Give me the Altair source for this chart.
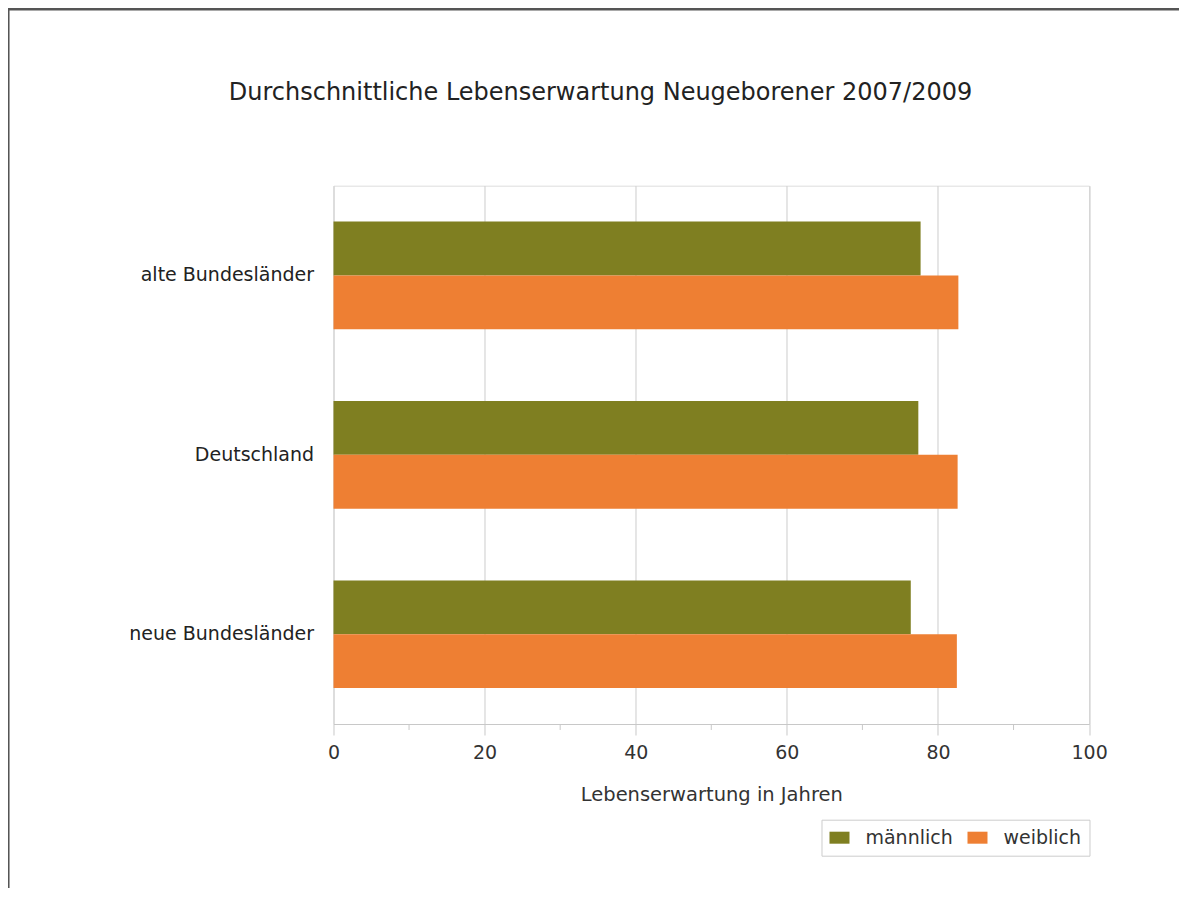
import altair as alt
import pandas as pd

regions = ["alte Bundesländer", "Deutschland", "neue Bundesländer"]
maennlich = [77.7, 77.4, 76.4]
weiblich = [82.7, 82.6, 82.5]
series = ["männlich", "weiblich"]
colors = ["#7f7f21", "#ee7f33"]
major_ticks = [0, 20, 40, 60, 80, 100]
minor_ticks = [10, 30, 50, 70, 90]
title_text = "Durchschnittliche Lebenserwartung Neugeborener 2007/2009"
x_title = "Lebenserwartung in Jahren"

rows = []
for r, m, w in zip(regions, maennlich, weiblich):
    rows.append({"Region": r, "Geschlecht": series[0], "Wert": m})
    rows.append({"Region": r, "Geschlecht": series[1], "Wert": w})
df = pd.DataFrame(rows)

W = 755.6
H = 538.3
FONT = "DejaVu Sans"

xscale = alt.Scale(domain=[0, 100], nice=False)

bars = alt.Chart(df).mark_bar().encode(
    y=alt.Y("Region:N", sort=regions,
            scale=alt.Scale(paddingInner=0.4, paddingOuter=0.2),
            axis=alt.Axis(title=None, ticks=False, domain=False,
                          labelFontSize=19, labelColor="#222222",
                          labelPadding=20, labelFont=FONT, labelLimit=400)),
    yOffset=alt.YOffset("Geschlecht:N", sort=series),
    x=alt.X("Wert:Q", scale=xscale,
            axis=alt.Axis(values=major_ticks, title=x_title, grid=True,
                          gridColor="#cccccc", domainColor="#c8c8c8",
                          tickColor="#c8c8c8", tickSize=11,
                          labelFontSize=19, labelColor="#333333",
                          labelPadding=9, labelFont=FONT, labelFlush=False,
                          titleFontSize=19.5, titleFontWeight="normal",
                          titleColor="#333333", titleFont=FONT,
                          titlePadding=23)),
    color=alt.Color("Geschlecht:N", sort=series,
                    scale=alt.Scale(domain=series, range=colors),
                    legend=alt.Legend(title=None, orient="none",
                                      legendX=488, legendY=634,
                                      direction="horizontal",
                                      strokeColor="#cccccc", fillColor="white",
                                      padding=8,
                                      symbolType="M-1,-0.6H1V0.6H-1Z",
                                      symbolSize=400, symbolStrokeWidth=0,
                                      symbolOpacity=1,
                                      labelFontSize=19, labelColor="#333333",
                                      labelFont=FONT,
                                      labelOffset=16, columnPadding=14)),
)

minor = alt.Chart(pd.DataFrame({"t": minor_ticks})).mark_rule(
    color="#c8c8c8", strokeWidth=1
).encode(
    x=alt.X("t:Q", scale=xscale),
    y=alt.value(H),
    y2=alt.value(H + 6),
)

title = alt.Chart(pd.DataFrame({"t": [title_text]})).mark_text(
    fontSize=24, font=FONT, color="#222222", align="center", baseline="middle"
).encode(
    text="t:N",
    x=alt.value(267),
    y=alt.value(-93),
)

frame_top = alt.Chart(pd.DataFrame({"a": [0]})).mark_rule(
    color="#555555", strokeWidth=2.5
).encode(x=alt.value(-330), x2=alt.value(1000), y=alt.value(-176.4))

frame_left = alt.Chart(pd.DataFrame({"a": [0]})).mark_rule(
    color="#555555", strokeWidth=2.5
).encode(x=alt.value(-325.2), y=alt.value(-180), y2=alt.value(900))

chart = alt.layer(bars, minor, title, frame_top, frame_left).properties(
    width=W, height=H,
    autosize=alt.AutoSizeParams(type="none"),
    padding={"left": 325.5, "top": 177.7, "right": 90, "bottom": 164},
).configure_view(
    stroke="#c8c8c8", strokeWidth=1
).configure(
    background="white"
)

chart.save("out.html", embed_options={"renderer": "svg", "actions": False})
